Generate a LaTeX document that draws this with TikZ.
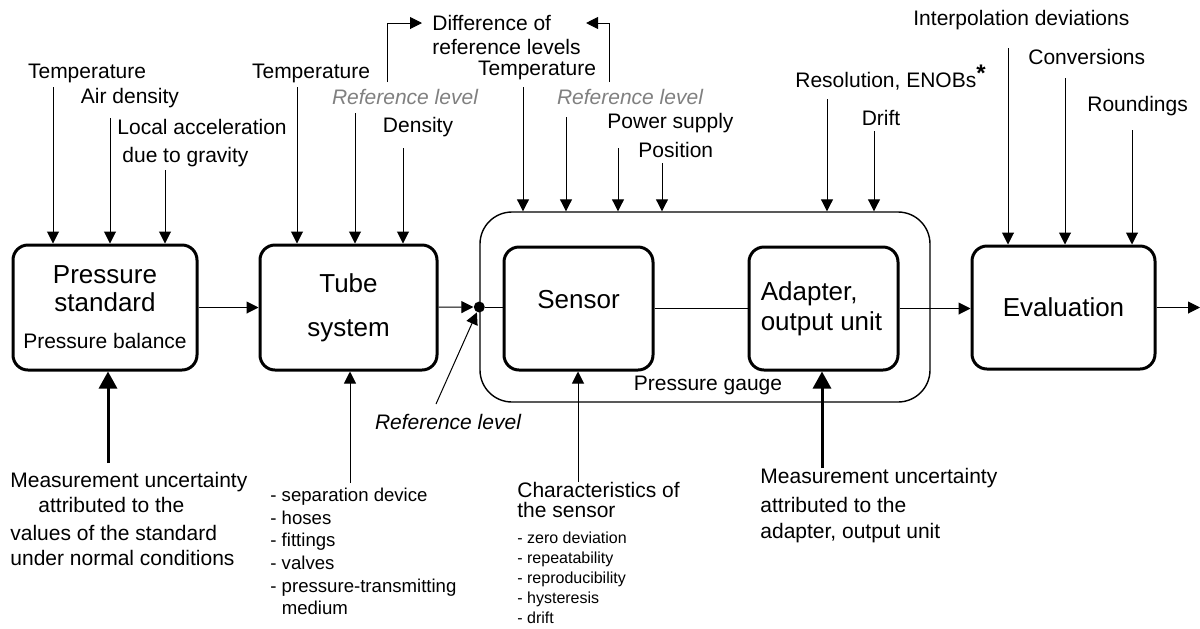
\documentclass[tikz,border=0pt]{standalone}
\usepackage{fontspec}
\setmainfont{Liberation Sans}
\usetikzlibrary{arrows.meta}
\definecolor{refgray}{gray}{0.5}
\newcommand{\lblfont}{\fontsize{10.5}{12.6}\selectfont}
\newcommand{\boxfont}{\fontsize{13}{14}\selectfont}

\begin{document}
\begin{tikzpicture}[x=0.5pt,y=-0.5pt,
	arr/.style={-{Triangle[length=6pt,width=6pt]},line width=0.5pt},
	bigarr/.style={-{Triangle[length=8.5pt,width=9pt]},line width=1.5pt},
	blk/.style={draw,line width=1.5pt,rounded corners=7.5pt,align=center,font=\boxfont},
	lbl/.style={inner sep=0pt,font=\lblfont,align=left}]
	\useasboundingbox (0,0) rectangle (1200,628);

	\node[draw,line width=0.7pt,rounded corners=16pt,minimum width=225pt,minimum height=95pt] (gauge) at (705,307) {};
	\node[lbl] (gaugelbl) at (708,385) {Pressure gauge};

	\node[blk,minimum width=92pt,minimum height=62.5pt] (std) at (105,307.5) {Pressure\\standard\\[4.5pt]{\lblfont Pressure balance}};
	\node[blk,minimum width=88.5pt,minimum height=62.5pt] (tube) at (348.5,307.5) {Tube\\[8pt]system};
	\node[blk,minimum width=74.5pt,minimum height=61.5pt,label={[font=\boxfont,yshift=4.25pt]center:Sensor}] (sensor) at (578.5,308.5) {};
	\node[blk,minimum width=74.5pt,minimum height=61.5pt,label={[font=\boxfont,align=left,xshift=-1pt]center:Adapter,\\[1pt]output unit}] (adapter) at (823.5,308.5) {};
	\node[blk,minimum width=91.5pt,minimum height=61.5pt] (eval) at (1063.5,307.5) {Evaluation};
	\node[circle,fill,inner sep=0pt,minimum size=5.5pt] (jn) at (gauge.west) {};
	\coordinate (out) at (1200,307.5);

	\draw[arr] (std) -- (tube);
	\draw[arr] (tube) -- (jn);
	\draw (jn) -- (jn -| sensor.west);
	\draw (sensor) -- (adapter);
	\draw[arr] (adapter.east) -- (adapter.east -| eval.west);
	\draw[arr] (eval) -- (out);

	\node[lbl] (tempS) at (87,73) {Temperature};
	\node[lbl] (airS) at (130,98) {Air density};
	\node[lbl,anchor=west,font=\fontsize{10.5}{14}\selectfont] (gravS) at (117,143) {Local acceleration\\\hspace*{2.5pt}due to gravity};
	\draw[arr] (53,87) coordinate (s1) -- (s1 |- std.north);
	\draw[arr] (110,118) coordinate (s2) -- (s2 |- std.north);
	\draw[arr] (165,170) coordinate (s3) -- (s3 |- std.north);

	\node[lbl] (tempT) at (311,73) {Temperature};
	\node[lbl,text=refgray,font=\lblfont\itshape] (refT) at (405,97) {Reference level};
	\node[lbl] (densT) at (418,127) {Density};
	\draw[arr] (297,87) coordinate (t1) -- (t1 |- tube.north);
	\draw[arr] (355,113) coordinate (t2) -- (t2 |- tube.north);
	\draw[arr] (403,148) coordinate (t3) -- (t3 |- tube.north);

	\node[lbl,anchor=west,font=\fontsize{10.5}{12}\selectfont] (diff) at (432,35) {Difference of\\reference levels};
	\draw[arr] (387,82) |- ([xshift=-5pt,yshift=6pt]diff.west);
	\draw[arr] (609,82) |- ([xshift=2.5pt,yshift=6pt]diff.east);

	\node[lbl] (tempG) at (537,70) {Temperature};
	\node[lbl,text=refgray,font=\lblfont\itshape] (refG) at (630,97) {Reference level};
	\node[lbl,anchor=west] (powG) at (607,123) {Power supply};
	\node[lbl,anchor=west] (posG) at (638,150) {Position};
	\node[lbl,anchor=west] (resG) at (795,78) {Resolution, ENOBs\raisebox{3pt}{\fontsize{12}{12}\selectfont\bfseries *}};
	\node[lbl] (driftG) at (881,118) {Drift};
	\draw[arr] (523,87) coordinate (g1) -- (g1 |- gauge.north);
	\draw[arr] (566,117) coordinate (g2) -- (g2 |- gauge.north);
	\draw[arr] (618,148) coordinate (g3) -- (g3 |- gauge.north);
	\draw[arr] (662,163) coordinate (g4) -- (g4 |- gauge.north);
	\draw[arr] (827,99) coordinate (g5) -- (g5 |- gauge.north);
	\draw[arr] (874,131) coordinate (g6) -- (g6 |- gauge.north);

	\node[lbl,anchor=west] (interE) at (913,20) {Interpolation deviations};
	\node[lbl,anchor=west] (convE) at (1028,57) {Conversions};
	\node[lbl,anchor=west] (roundE) at (1087,106) {Roundings};
	\draw[arr] (1008,48) coordinate (e1) -- (e1 |- eval.north);
	\draw[arr] (1065,78) coordinate (e2) -- (e2 |- eval.north);
	\draw[arr] (1132,130) coordinate (e3) -- (e3 |- eval.north);

	\node[lbl,font=\lblfont\itshape] (refB) at (448,422) {Reference level};
	\draw[arr] (436,404) coordinate (r1) -- (jn);

	\node[lbl,anchor=west] (uncS) at (10,519) {Measurement uncertainty\\\hspace*{14pt}attributed to the\\[1.5pt]values of the standard\\under normal conditions};
	\draw[bigarr] (108,463) coordinate (b1) -- (b1 |- std.south);

	\node[lbl,anchor=west,font=\fontsize{9.3}{11.3}\selectfont] (tubeL) at (270,551.5) {- separation device\\- hoses\\- fittings\\- valves\\- pressure-transmitting\\\phantom{- }medium};
	\draw[arr] (350,483) coordinate (b2) -- (b2 |- tube.south);

	\node[lbl,anchor=west,font=\fontsize{10.5}{10}\selectfont] (charS) at (517,500) {Characteristics of\\the sensor};
	\node[lbl,anchor=west,font=\fontsize{8}{10}\selectfont] (charL) at (517,578) {- zero deviation\\- repeatability\\- reproducibility\\- hysteresis\\- drift};
	\draw[arr] (578,482) coordinate (b3) -- (b3 |- sensor.south);

	\node[lbl,anchor=west,font=\fontsize{10.5}{13}\selectfont] (uncA) at (760,505.5) {Measurement uncertainty\\[1.5pt]attributed to the\\adapter, output unit};
	\draw[bigarr] (822,468) coordinate (b4) -- (b4 |- adapter.south);
\end{tikzpicture}
\end{document}
